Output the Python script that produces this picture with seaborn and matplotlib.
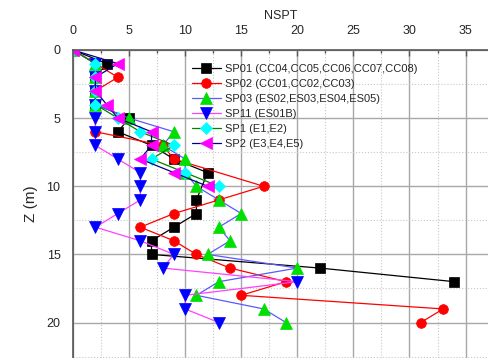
import matplotlib
matplotlib.use("Agg")
import matplotlib.pyplot as plt
import pandas as pd
import seaborn as sns
from matplotlib.ticker import MultipleLocator

# --- data (NSPT vs depth) ---

sp01_depth = [0, 1, 2, 3, 4, 5, 6, 7, 8, 9, 11, 12, 13, 14, 15, 16, 17]
sp01_nspt = [0, 3, 2, 2, 2, 5, 4, 7, 9, 12, 11, 11, 9, 7, 7, 22, 34]

sp02_depth = [0, 2, 3, 6, 7, 8, 10, 11, 12, 13, 14, 15, 16, 17, 18, 19, 20]
sp02_nspt = [0, 4, 2, 2, 8, 9, 17, 13, 9, 6, 9, 11, 14, 19, 15, 33, 31]

sp03_depth = [0, 1, 2, 3, 4, 5, 6, 7, 8, 9, 10, 11, 12, 13, 14, 15, 16, 17, 18, 19, 20]
sp03_nspt = [0, 2, 2, 2, 2, 5, 9, 8, 10, 10, 11, 13, 15, 13, 14, 12, 20, 13, 11, 17, 19]

sp11_depth = [0, 1, 2, 3, 4, 5, 6, 7, 8, 9, 10, 11, 12, 13, 14, 15, 16, 17, 18, 19, 20]
sp11_nspt = [0, 2, 2, 2, 2, 2, 2, 2, 4, 6, 6, 6, 4, 2, 6, 9, 8, 20, 10, 10, 13]

sp1_depth = [0, 1, 2, 3, 4, 5, 6, 7, 8, 9, 10]
sp1_nspt = [0, 2, 2, 2, 2, 4, 6, 9, 7, 10, 13]

sp2_depth = [0, 1, 2, 3, 4, 5, 6, 7, 8, 9, 10]
sp2_nspt = [0, 4, 2, 2, 3, 4, 7, 7, 6, 9, 12]

labels = [
    "SP01 (CC04,CC05,CC06,CC07,CC08)",
    "SP02 (CC01,CC02,CC03)",
    "SP03 (ES02,ES03,ES04,ES05)",
    "SP11 (ES01B)",
    "SP1 (E1,E2)",
    "SP2 (E3,E4,E5)",
]

series = [
    (sp01_depth, sp01_nspt),
    (sp02_depth, sp02_nspt),
    (sp03_depth, sp03_nspt),
    (sp11_depth, sp11_nspt),
    (sp1_depth, sp1_nspt),
    (sp2_depth, sp2_nspt),
]

# line colour, marker colour, marker, marker size
styles = [
    ("black", "black", "s", 6.5),
    ("red", "red", "o", 7),
    ("#5a5aff", "#00e000", "^", 8),
    ("#ff40ff", "#0000ff", "v", 8),
    ("#008000", "#00ffff", "D", 6),
    ("#000080", "#ff00ff", "<", 8),
]

sns.set_style("white")
plt.rcParams["font.family"] = ["Liberation Sans", "DejaVu Sans"]

fig = plt.figure(figsize=(4.88, 3.58), dpi=100)
ax = fig.add_axes([73 / 488, 0, 1 - 73 / 488, 1 - 50 / 358])

for (depth, nspt), label, (lc, mc, mk, ms) in zip(series, labels, styles):
    df = pd.DataFrame({"NSPT": nspt, "Z": depth})
    sns.lineplot(
        data=df, x="NSPT", y="Z", sort=False, estimator=None, errorbar=None,
        ax=ax, label=label,
        color=lc, lw=0.9, marker=mk, markersize=ms,
        markerfacecolor=mc, markeredgecolor=mc, markeredgewidth=0.5,
    )

ax.set_xlim(0, 37)
ax.set_ylim(22.6, 0)

ax.xaxis.set_major_locator(MultipleLocator(5))
ax.xaxis.set_minor_locator(MultipleLocator(2.5))
ax.yaxis.set_major_locator(MultipleLocator(5))
ax.yaxis.set_minor_locator(MultipleLocator(2.5))

ax.xaxis.tick_top()
ax.xaxis.set_label_position("top")
ax.set_xlabel("NSPT", fontsize=9, labelpad=5)
ax.set_ylabel("Z (m)", fontsize=11, labelpad=6)

ax.grid(which="major", color="#a8a8a8", lw=1.0, ls="-")
ax.grid(which="minor", color="#c8c8c8", lw=0.8, ls=":")
ax.set_axisbelow(True)

ax.tick_params(axis="both", which="major", labelsize=9, length=4,
               width=1, color="#555555")
ax.tick_params(axis="both", which="minor", length=2.5, width=1,
               color="#555555")
ax.tick_params(axis="x", which="both", direction="in", pad=9)
ax.tick_params(axis="y", which="both", direction="out", pad=5)

for side in ["right", "bottom"]:
    ax.spines[side].set_visible(False)
for side in ["left", "top"]:
    ax.spines[side].set_color("#555555")
    ax.spines[side].set_linewidth(1.2)

ax.legend(
    loc="upper left", bbox_to_anchor=(0.27, 0.975), frameon=False,
    fontsize=8, handlelength=2.6, labelspacing=0.45, handletextpad=0.4,
    borderaxespad=0.2,
)

fig.savefig("out.png", dpi=100)
